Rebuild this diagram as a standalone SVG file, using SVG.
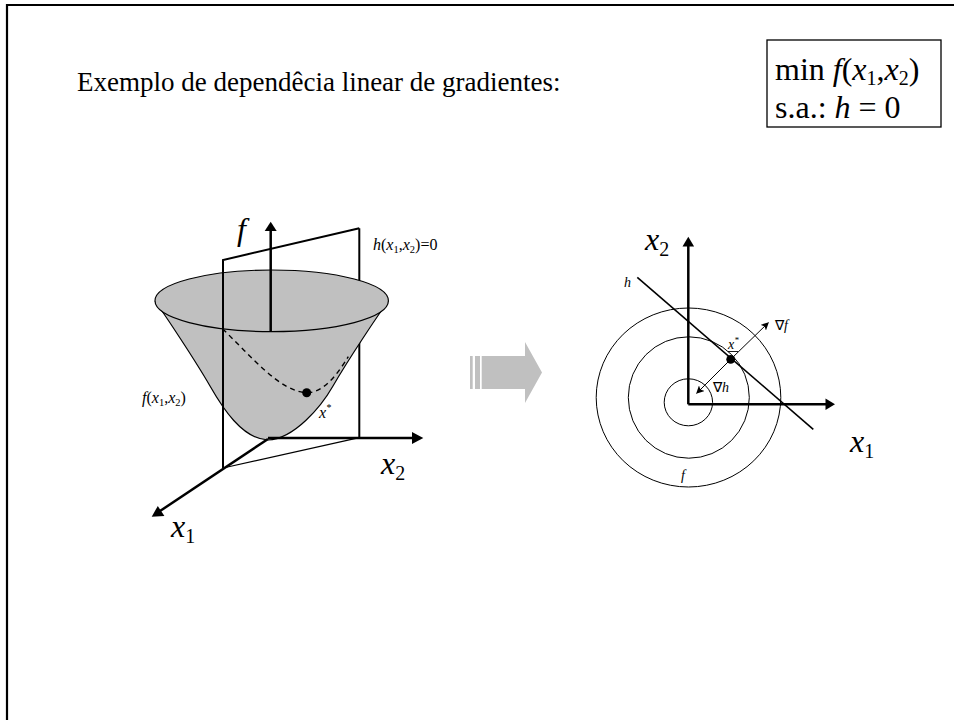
<svg xmlns="http://www.w3.org/2000/svg" width="954" height="720" viewBox="0 0 954 720">
<style>
  text { font-family: "Liberation Serif", "Times New Roman", serif; fill: #000; }
  .it { font-style: italic; }
  .ax { stroke: #000; stroke-width: 2.5; fill: none; }
  .ln { stroke: #000; stroke-width: 2; fill: none; }
  .thin { stroke: #000; stroke-width: 1.2; fill: none; }
  .head { fill: #000; stroke: none; }
  .gray { fill: #c0c0c0; }
</style>
<defs>
  <marker id="sh" viewBox="0 0 10 10" refX="9" refY="5" markerWidth="8" markerHeight="8" markerUnits="userSpaceOnUse" orient="auto">
    <path d="M0,0 L10,5 L0,10 L2.5,5 z" fill="#000"/>
  </marker>
</defs>
<rect width="954" height="720" fill="#fff"/>
<path d="M7,720 V5 H954" fill="none" stroke="#000" stroke-width="2.2"/>

<g id="title">
  <text x="77" y="91" font-size="27">Exemplo de dependêcia linear de gradientes:</text>
</g>

<g id="problem-box">
  <rect x="767" y="40" width="174" height="87" fill="#fff" stroke="#000" stroke-width="1.3"/>
  <text x="775" y="80" font-size="32">min <tspan class="it">f</tspan>(<tspan class="it">x</tspan><tspan font-size="20" dy="5">1</tspan><tspan dy="-5">,</tspan><tspan class="it">x</tspan><tspan font-size="20" dy="5">2</tspan><tspan dy="-5">)</tspan></text>
  <text x="775" y="118" font-size="32">s.a.:  <tspan class="it">h</tspan> = 0</text>
</g>

<g id="surface-3d">
  <line class="ln" x1="359.3" y1="228.3" x2="359.3" y2="437.7"/>
  <line class="thin" x1="223" y1="468" x2="359.3" y2="437.7"/>
  <path class="gray" d="M155,301 C165,315 195,360 210,386 C222,407 242,439 268,440 C294,439 321,407 333,386 C348,360 378,315 388.3,301 A116.7,30.8 0 0 1 155,301 Z"/>
  <path class="thin" d="M155,301 C165,315 195,360 210,386 C222,407 242,439 268,440 C294,439 321,407 333,386 C348,360 378,315 388.3,301"/>
  <ellipse class="gray" cx="271.7" cy="300.8" rx="116.7" ry="30.8" stroke="#000" stroke-width="1.2"/>
  <path d="M222.7,329 C250,355 280,392 306.7,392.7 C325,393 340,370 348.3,356.7" fill="none" stroke="#000" stroke-width="1.4" stroke-dasharray="5,4"/>
  <circle cx="306.7" cy="392.7" r="4.5" fill="#000"/>
  <path class="ln" d="M223,468 V260 L359.3,228.3"/>
  <text x="373" y="250" font-size="16"><tspan class="it">h</tspan>(<tspan class="it">x</tspan><tspan font-size="10.5" dy="3">1</tspan><tspan dy="-3">,</tspan><tspan class="it">x</tspan><tspan font-size="10.5" dy="3">2</tspan><tspan dy="-3">)=0</tspan></text>
  <text x="142" y="403" font-size="16"><tspan class="it">f</tspan>(<tspan class="it">x</tspan><tspan font-size="10.5" dy="3">1</tspan><tspan dy="-3">,</tspan><tspan class="it">x</tspan><tspan font-size="10.5" dy="3">2</tspan><tspan dy="-3">)</tspan></text>
  <text x="319" y="418" font-size="16" class="it">x<tspan font-size="10" dy="-7">*</tspan></text>
</g>

<g id="axes-3d">
  <line class="ax" x1="270.7" y1="331.7" x2="270.7" y2="229"/>
  <polygon class="head" points="270.7,221.7 264.7,231 276.7,231"/>
  <line class="ax" x1="268" y1="438" x2="413" y2="438"/>
  <polygon class="head" points="423.3,438 412,432 412,444"/>
  <line class="ax" x1="268" y1="439" x2="160" y2="511"/>
  <polygon class="head" points="151.7,516.7 164.4,516 157.8,506"/>
  <text x="237" y="240" font-size="32" class="it">f</text>
  <text x="381" y="474" font-size="32"><tspan class="it">x</tspan><tspan font-size="20" dy="6">2</tspan></text>
  <text x="171" y="537" font-size="32"><tspan class="it">x</tspan><tspan font-size="20" dy="6">1</tspan></text>
</g>

<g id="transition-arrow">
  <rect class="gray" x="470" y="356" width="2.7" height="33"/>
  <rect class="gray" x="475" y="356" width="5" height="33"/>
  <polygon class="gray" points="481.7,356 525,356 525,342 542,372.5 525,403 525,389 481.7,389"/>
</g>

<g id="contour-plot">
  <ellipse cx="688.5" cy="397.5" rx="92.3" ry="89.5" fill="none" stroke="#000" stroke-width="1"/>
  <ellipse cx="688.8" cy="397.5" rx="60.5" ry="60.7" fill="none" stroke="#000" stroke-width="1"/>
  <ellipse cx="688.4" cy="402.3" rx="24.2" ry="23.5" fill="none" stroke="#000" stroke-width="1"/>
  <text x="681" y="480" font-size="14" class="it">f</text>
  <line x1="637.3" y1="277.3" x2="813.3" y2="429.3" stroke="#000" stroke-width="1.6"/>
  <text x="624" y="287" font-size="14" class="it">h</text>
</g>

<g id="axes-2d">
  <line class="ax" x1="688.3" y1="404.3" x2="688.3" y2="245"/>
  <polygon class="head" points="688.3,236.7 682.5,246.5 694.1,246.5"/>
  <line class="ax" x1="688.3" y1="404.3" x2="826" y2="404.3"/>
  <polygon class="head" points="835,404.3 825.5,398.5 825.5,410.1"/>
  <text x="645" y="250" font-size="32"><tspan class="it">x</tspan><tspan font-size="20" dy="6">2</tspan></text>
  <text x="850" y="452" font-size="32"><tspan class="it">x</tspan><tspan font-size="20" dy="6">1</tspan></text>
</g>

<g id="connectors">
  <line x1="730.7" y1="359.3" x2="768.3" y2="322.7" stroke="#000" stroke-width="1" marker-end="url(#sh)"/>
  <line x1="730.7" y1="359.3" x2="696.7" y2="393.3" stroke="#000" stroke-width="1" marker-end="url(#sh)"/>
</g>

<g id="optimum-point">
  <circle cx="730.7" cy="359.3" r="4.4" fill="#000"/>
  <text x="728" y="349" font-size="14" class="it">x<tspan font-size="9" dy="-6">*</tspan></text>
  <line x1="728" y1="351.5" x2="738" y2="351.5" stroke="#000" stroke-width="0.9"/>
  <text x="775" y="330" font-size="14">∇<tspan class="it">f</tspan></text>
  <text x="713" y="392" font-size="14">∇<tspan class="it">h</tspan></text>
</g>
</svg>
